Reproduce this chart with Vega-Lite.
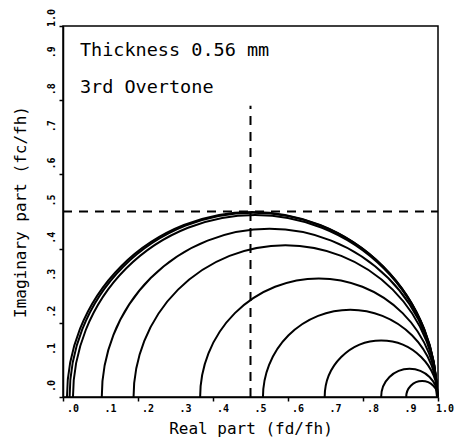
{
  "$schema": "https://vega.github.io/schema/vega-lite/v6.json",
  "width": 375,
  "height": 371,
  "autosize": {"type": "none"},
  "padding": {"left": 63, "top": 26, "right": 17, "bottom": 50},
  "background": "white",
  "config": {
    "view": {"stroke": "black", "strokeWidth": 1.5},
    "font": "DejaVu Sans Mono",
    "axis": {
      "grid": false,
      "labels": false,
      "domainColor": "black",
      "domainWidth": 1.5,
      "tickColor": "black",
      "tickWidth": 1.5,
      "tickSize": 4,
      "titleFont": "DejaVu Sans Mono",
      "titleFontSize": 16,
      "titleFontWeight": "normal",
      "titleColor": "black"
    }
  },
  "datasets": {
    "circles": [
      {"start": 0.008, "cx": 0.504, "r": 0.496},
      {"start": 0.015, "cx": 0.5075, "r": 0.4925},
      {"start": 0.024, "cx": 0.512, "r": 0.488},
      {"start": 0.101, "cx": 0.5505, "r": 0.4495},
      {"start": 0.186, "cx": 0.593, "r": 0.407},
      {"start": 0.364, "cx": 0.682, "r": 0.318},
      {"start": 0.532, "cx": 0.766, "r": 0.234},
      {"start": 0.697, "cx": 0.8485, "r": 0.1515},
      {"start": 0.848, "cx": 0.924, "r": 0.076},
      {"start": 0.915, "cx": 0.9575, "r": 0.0425}
    ],
    "guides": [
      {"x1": 0, "x2": 1, "y1": 0.5, "y2": 0.5},
      {"x1": 0.5, "x2": 0.5, "y1": 0, "y2": 0.785}
    ],
    "notes": [
      {"x": 0.045, "y": 0.935, "label": "Thickness 0.56 mm"},
      {"x": 0.045, "y": 0.835, "label": "3rd Overtone"}
    ],
    "ticks": [
      {"v": 0, "label": ".0", "zero": 0},
      {"v": 0.1, "label": ".1", "zero": 0},
      {"v": 0.2, "label": ".2", "zero": 0},
      {"v": 0.3, "label": ".3", "zero": 0},
      {"v": 0.4, "label": ".4", "zero": 0},
      {"v": 0.5, "label": ".5", "zero": 0},
      {"v": 0.6, "label": ".6", "zero": 0},
      {"v": 0.7, "label": ".7", "zero": 0},
      {"v": 0.8, "label": ".8", "zero": 0},
      {"v": 0.9, "label": ".9", "zero": 0},
      {"v": 1.0, "label": "1.0", "zero": 0}
    ]
  },
  "layer": [
    {
      "data": {"name": "guides"},
      "mark": {"type": "rule", "color": "black", "strokeWidth": 2, "strokeDash": [9, 7]},
      "encoding": {
        "x": {
          "field": "x1", "type": "quantitative",
          "scale": {"domain": [0, 1], "nice": false, "zero": false},
          "axis": {
            "values": [0, 0.1, 0.2, 0.3, 0.4, 0.5, 0.6, 0.7, 0.8, 0.9, 1],
            "title": "Real part (fd/fh)",
            "titlePadding": 19
          }
        },
        "x2": {"field": "x2"},
        "y": {
          "field": "y1", "type": "quantitative",
          "scale": {"domain": [0, 1], "nice": false, "zero": false},
          "axis": {
            "values": [0, 0.1, 0.2, 0.3, 0.4, 0.5, 0.6, 0.7, 0.8, 0.9, 1],
            "title": "Imaginary part (fc/fh)",
            "titlePadding": 30
          }
        },
        "y2": {"field": "y2"}
      }
    },
    {
      "data": {"name": "circles"},
      "mark": {"type": "arc", "filled": false, "stroke": "black", "strokeWidth": 2},
      "encoding": {
        "x": {"field": "cx", "type": "quantitative", "stack": null},
        "y": {"datum": 0, "type": "quantitative", "stack": null},
        "theta": {"value": -1.5708},
        "theta2": {"value": 1.5708},
        "radius": {"field": "r", "type": "quantitative", "stack": null, "scale": {"type": "linear", "domain": [0, 1], "range": [0, 373], "zero": true}, "legend": null},
        "radius2": {"field": "r"}
      }
    },
    {
      "data": {"name": "notes"},
      "mark": {"type": "text", "align": "left", "baseline": "middle", "font": "DejaVu Sans Mono", "fontSize": 18.5, "color": "black"},
      "encoding": {
        "x": {"field": "x", "type": "quantitative"},
        "y": {"field": "y", "type": "quantitative"},
        "text": {"field": "label"}
      }
    },
    {
      "data": {"name": "ticks"},
      "mark": {"type": "text", "align": "right", "baseline": "middle", "font": "DejaVu Sans Mono", "fontSize": 10, "fontWeight": "bold", "color": "black", "dx": 16, "dy": 12},
      "encoding": {
        "x": {"field": "v", "type": "quantitative"},
        "y": {"field": "zero", "type": "quantitative"},
        "text": {"field": "label"}
      }
    },
    {
      "data": {"name": "ticks"},
      "mark": {"type": "text", "align": "right", "baseline": "middle", "angle": 270, "font": "DejaVu Sans Mono", "fontSize": 10, "fontWeight": "bold", "color": "black", "dx": 17, "dy": -11},
      "encoding": {
        "x": {"field": "zero", "type": "quantitative"},
        "y": {"field": "v", "type": "quantitative"},
        "text": {"field": "label"}
      }
    }
  ]
}
